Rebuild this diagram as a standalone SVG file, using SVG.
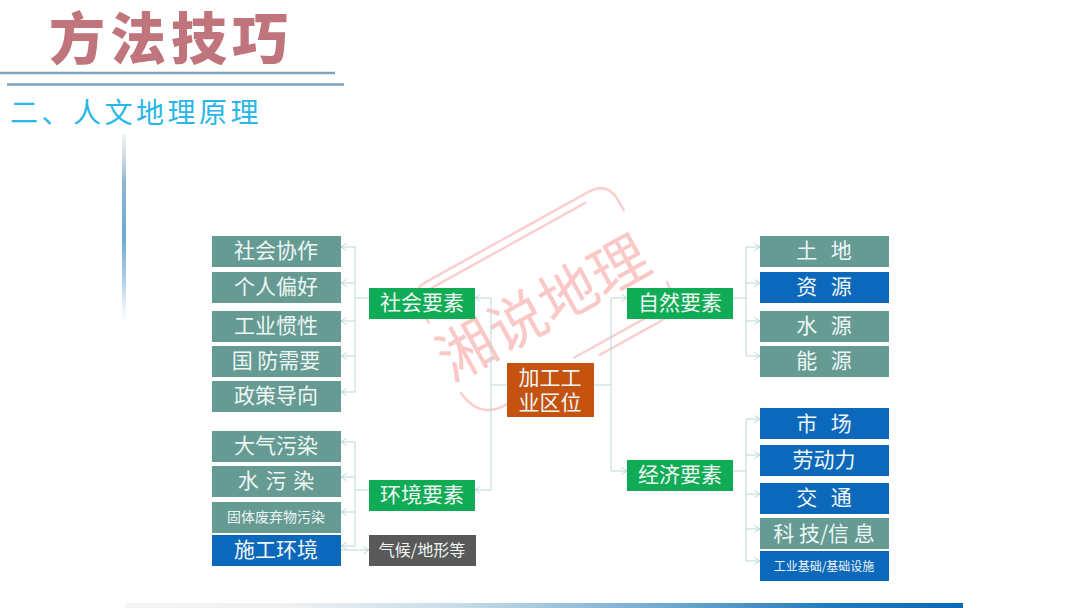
<svg xmlns="http://www.w3.org/2000/svg" width="1080" height="608" viewBox="0 0 1080 608">
<style>
text{font-family:"Noto Sans CJK SC","Noto Sans",sans-serif;text-anchor:middle;fill:#eef6f4}
.t{fill:#659b93}.b{fill:#0c68bb}.g{fill:#10ab55}
.l{font-size:21px}.s{font-size:14px}.w9{word-spacing:9px}
.c{fill:none;stroke:#b9d9d6;stroke-width:1}
.w{fill:none;stroke:#fad0cf;stroke-width:2.500;stroke-linecap:round}
</style>
<defs>
<marker id="a" markerWidth="10" markerHeight="10" refX="7" refY="4" orient="auto" markerUnits="userSpaceOnUse"><path d="M1.500 .5L7 4L1.500 7.500" fill="none" stroke="#b9d9d6" stroke-width="1"/></marker>
<linearGradient id="v" x1="0" y1="0" x2="0" y2="1"><stop offset="0" stop-color="#c8d4dc" stop-opacity=".3"/><stop offset=".25" stop-color="#8fb8d2"/><stop offset=".55" stop-color="#6ea8d2"/><stop offset=".8" stop-color="#b4d2e8"/><stop offset="1" stop-color="#dcebf6" stop-opacity=".2"/></linearGradient>
<linearGradient id="h" x1="0" y1="0" x2="1" y2="0"><stop offset="0" stop-color="#f5f5f5"/><stop offset=".2" stop-color="#eef0f2"/><stop offset=".4" stop-color="#c6dce8"/><stop offset=".65" stop-color="#6fa8d0"/><stop offset=".85" stop-color="#1f78bb"/><stop offset="1" stop-color="#0a68b5"/></linearGradient>
</defs>
<rect width="1080" height="608" fill="#fff"/>
<text x="171" y="59" style="font-size:56px;font-weight:900;fill:#c0747c;letter-spacing:5px">方法技巧</text>
<path d="M0 73H335M7 84.500H344" stroke="#7ea3c0" stroke-width="2.500"/>
<text x="136" y="123" style="font-size:28px;font-weight:400;fill:#29b6e8;letter-spacing:3.500px">二、人文地理原理</text>
<rect x="122" y="135" width="4" height="185" fill="url(#v)"/>
<rect x="125" y="603" width="838" height="5" fill="url(#h)"/>
<g id="stamp" transform="translate(542 300) rotate(-29)">
<path class="w" d="M-110 -35V-54Q-110 -72 -92 -72H93Q115 -72 115 -50V-39"/>
<path class="w" d="M-100 -52Q-100 -64 -88 -64H85"/>
<path class="w" d="M-116 42Q-112 76 -80 74"/>
<path class="w" d="M24 76H92Q117 76 118 45"/>
<path class="w" d="M0 66H90Q106 66 108 50"/>
<text x="-3" y="28" style="font-size:58px;fill:#fac8c7">湘说地理</text>
</g>
<g id="connectors">
<path class="c" d="M369 298H355M355 247V392" />
<path class="c" marker-end="url(#a)" d="M355 247H341"/><path class="c" marker-end="url(#a)" d="M355 283H341"/><path class="c" marker-end="url(#a)" d="M355 321H341"/><path class="c" marker-end="url(#a)" d="M355 356H341"/><path class="c" marker-end="url(#a)" d="M355 392H341"/>
<path class="c" d="M369 490H355M355 442V546"/>
<path class="c" marker-end="url(#a)" d="M355 442H341"/><path class="c" marker-end="url(#a)" d="M355 477H341"/><path class="c" marker-end="url(#a)" d="M355 512H341"/><path class="c" marker-end="url(#a)" d="M355 546H341"/>
<path class="c" marker-end="url(#a)" d="M341 550H369"/>
<path class="c" d="M507 385H491M594 385H611M491 298V490M611 298V471"/>
<path class="c" marker-end="url(#a)" d="M491 298H475"/><path class="c" marker-end="url(#a)" d="M491 490H475"/>
<path class="c" marker-end="url(#a)" d="M611 298H627"/><path class="c" marker-end="url(#a)" d="M611 471H627"/>
<path class="c" d="M733 298H746M746 247V356M733 471H746M746 419V561"/>
<path class="c" marker-end="url(#a)" d="M746 247H760"/><path class="c" marker-end="url(#a)" d="M746 283H760"/><path class="c" marker-end="url(#a)" d="M746 321H760"/><path class="c" marker-end="url(#a)" d="M746 356H760"/>
<path class="c" marker-end="url(#a)" d="M746 419H760"/><path class="c" marker-end="url(#a)" d="M746 455H760"/><path class="c" marker-end="url(#a)" d="M746 494H760"/><path class="c" marker-end="url(#a)" d="M746 529H760"/><path class="c" marker-end="url(#a)" d="M746 561H760"/>
</g>
<g id="n1"><rect class="t" x="212" y="236" width="129" height="31"/><text class="l" x="276" y="258">社会协作</text></g>
<g id="n2"><rect class="t" x="212" y="272" width="129" height="31"/><text class="l" x="276" y="294">个人偏好</text></g>
<g id="n3"><rect class="t" x="212" y="311" width="129" height="31"/><text class="l" x="276" y="333">工业惯性</text></g>
<g id="n4"><rect class="t" x="212" y="346" width="129" height="31"/><text class="l" x="276" y="368">国 防需要</text></g>
<g id="n5"><rect class="t" x="212" y="381" width="129" height="31"/><text class="l" x="276" y="403">政策导向</text></g>
<g id="n6"><rect class="t" x="212" y="431" width="129" height="31"/><text class="l" x="276" y="453">大气污染</text></g>
<g id="n7"><rect class="t" x="212" y="466" width="129" height="31"/><text class="l" x="276" y="488" style="word-spacing:2px">水 污 染</text></g>
<g id="n8"><rect class="t" x="212" y="502" width="129" height="31"/><text class="s" x="276" y="522">固体废弃物污染</text></g>
<g id="n9"><rect class="b" x="212" y="535" width="129" height="31"/><text class="l" x="276" y="557">施工环境</text></g>
<g id="n10"><rect class="g" x="369" y="288" width="106" height="31"/><text class="l" x="422" y="310">社会要素</text></g>
<g id="n11"><rect class="g" x="369" y="480" width="106" height="31"/><text class="l" x="422" y="502">环境要素</text></g>
<g id="n12"><rect x="369" y="535" width="107" height="31" fill="#595959"/><text x="422" y="556" style="font-size:16px">气候/地形等</text></g>
<g id="n13"><rect x="507" y="363" width="87" height="54" fill="#c5520f"/><text class="l"><tspan x="550" y="385">加工工</tspan><tspan x="550" y="410">业区位</tspan></text></g>
<g id="n14"><rect class="g" x="627" y="288" width="106" height="31"/><text class="l" x="680" y="310">自然要素</text></g>
<g id="n15"><rect class="g" x="627" y="460" width="106" height="31"/><text class="l" x="680" y="482">经济要素</text></g>
<g id="n16"><rect class="t" x="760" y="236" width="129" height="31"/><text class="l w9" x="824" y="258">土 地</text></g>
<g id="n17"><rect class="b" x="760" y="272" width="129" height="31"/><text class="l w9" x="824" y="294">资 源</text></g>
<g id="n18"><rect class="t" x="760" y="311" width="129" height="31"/><text class="l w9" x="824" y="333">水 源</text></g>
<g id="n19"><rect class="t" x="760" y="346" width="129" height="31"/><text class="l w9" x="824" y="368">能 源</text></g>
<g id="n20"><rect class="b" x="760" y="408" width="129" height="31"/><text class="l w9" x="824" y="431">市 场</text></g>
<g id="n21"><rect class="b" x="760" y="445" width="129" height="31"/><text class="l" x="824" y="467">劳动力</text></g>
<g id="n22"><rect class="b" x="760" y="483" width="129" height="31"/><text class="l w9" x="824" y="505">交 通</text></g>
<g id="n23"><rect class="t" x="760" y="518" width="129" height="31"/><text class="l" x="824" y="541">科 技/信 息</text></g>
<g id="n24"><rect class="b" x="760" y="551" width="129" height="30"/><text x="824" y="571" style="font-size:12px">工业基础/基础设施</text></g>
</svg>
